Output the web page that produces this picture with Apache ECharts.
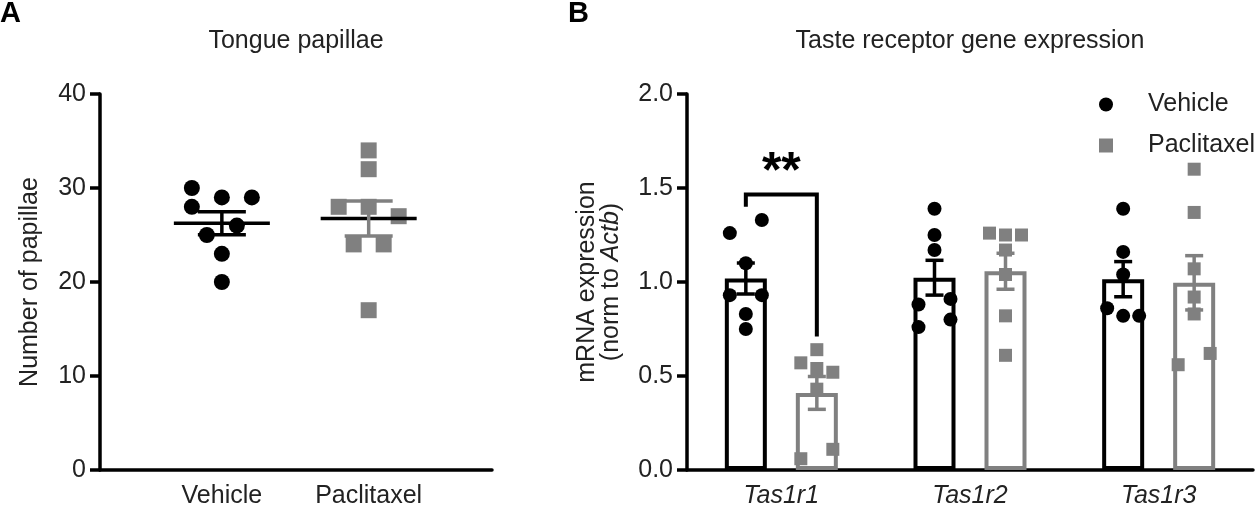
<!DOCTYPE html>
<html>
<head>
<meta charset="utf-8">
<script src="https://cdn.jsdelivr.net/npm/echarts@6/dist/echarts.min.js"></script>
<style>
html, body { margin: 0; padding: 0; background: #fff; }
#main { width: 1259px; height: 513px; }
</style>
</head>
<body>
<div id="main"></div>
<script>
// panel A: tongue papillae counts per mouse
var papGroups = ['Vehicle', 'Paclitaxel'];
var papVehicle = [30, 29, 29, 28, 26, 25, 23, 20];
var papPaclitaxel = [34, 32, 28, 28, 27, 24, 24, 17];
var papTicks = [0, 10, 20, 30, 40];

// panel B: taste receptor mRNA (norm to Actb), one list per gene
var genes = ['Tas1r1', 'Tas1r2', 'Tas1r3'];
var vehicleExpr = [
    [1.33, 1.26, 1.10, 0.93, 0.93, 0.83, 0.75],
    [1.39, 1.25, 1.17, 0.91, 0.88, 0.80, 0.76],
    [1.39, 1.16, 1.04, 0.86, 0.82, 0.82]
];
var paclitaxelExpr = [
    [0.64, 0.57, 0.54, 0.52, 0.43, 0.11, 0.06],
    [1.26, 1.25, 1.25, 1.17, 1.04, 0.82, 0.61],
    [1.60, 1.37, 1.07, 0.92, 0.83, 0.62, 0.56]
];
var exprTicks = [0, 0.5, 1.0, 1.5, 2.0];

// significance bracket on Tas1r1 (gene index, top, left foot, right foot)
var sigGene = 0;
var sigTop = 1.465;
var sigLeftEnd = 1.40;
var sigRightEnd = 0.71;
var sigLabel = '**';

var BLACK = '#000';
var GRAY = '#808080';
var TXT = '#222';
var FONT = '"Liberation Sans", Arial, sans-serif';

function mean(a) {
    var s = 0;
    for (var i = 0; i < a.length; i++) s += a[i];
    return s / a.length;
}
function sem(a) {
    var m = mean(a), s = 0;
    for (var i = 0; i < a.length; i++) s += (a[i] - m) * (a[i] - m);
    return Math.sqrt(s / (a.length - 1)) / Math.sqrt(a.length);
}

// row based scatter spread (like prism): points closer than D px in y share a row,
// a row is centred, then slid sideways if it still hits points above it
function swarm(vals, pxPerY, D, h) {
    var order = vals.map(function (v, i) { return i; });
    order.sort(function (a, b) { return vals[b] - vals[a]; });
    var rows = [];
    order.forEach(function (i) {
        var y = vals[i] * pxPerY;
        var last = rows[rows.length - 1];
        if (last && last.y0 - y < D) last.idx.push(i);
        else rows.push({y0: y, idx: [i]});
    });
    var placed = [], offs = [];
    rows.forEach(function (row) {
        var n = row.idx.length, base = [], j;
        if (n % 2) {
            var s = h >= D ? h : 2 * h;
            for (j = 0; j < n; j++) base.push((j - (n - 1) / 2) * s);
        } else {
            for (j = 0; j < n; j++) base.push((2 * j - (n - 1)) * h);
            base.reverse();
        }
        for (var k = 0; k < 40; k++) {
            var shift = (k % 2 ? 1 : -1) * Math.ceil(k / 2) * h;
            var ok = row.idx.every(function (i, jj) {
                var x = base[jj] + shift, y = vals[i] * pxPerY;
                return !placed.some(function (p) {
                    return Math.abs(p.y - y) < D - 0.01 && Math.abs(p.x - x) < D - 0.01;
                });
            });
            if (ok) {
                row.idx.forEach(function (i, jj) {
                    offs[i] = base[jj] + shift;
                    placed.push({x: offs[i], y: vals[i] * pxPerY});
                });
                break;
            }
        }
    });
    return offs;
}

var BAR_W = 42;
var BAR_SEP = 71; // distance between the two bar centres in a group

var myChart = echarts.init(document.getElementById('main'));

function axisLineStyle() {
    return {show: true, onZero: false, lineStyle: {color: BLACK, width: 3.5}};
}

myChart.setOption({
    animation: false,
    textStyle: {fontFamily: FONT},
    title: [
        {text: 'A', left: 0, top: -1, padding: 0,
            textStyle: {fontSize: 29, fontWeight: 'bold', color: BLACK, fontFamily: FONT}},
        {text: 'Tongue papillae', left: 296, top: 29, padding: 0, textAlign: 'center',
            textStyle: {fontSize: 25, fontWeight: 'normal', color: TXT, fontFamily: FONT}},
        {text: 'B', left: 568, top: -1, padding: 0,
            textStyle: {fontSize: 29, fontWeight: 'bold', color: BLACK, fontFamily: FONT}},
        {text: 'Taste receptor gene expression', left: 970, top: 29, padding: 0, textAlign: 'center',
            textStyle: {fontSize: 25, fontWeight: 'normal', color: TXT, fontFamily: FONT}}
    ],
    legend: {
        orient: 'vertical',
        left: 1094,
        top: 86,
        itemWidth: 14,
        itemHeight: 14,
        itemGap: 14,
        selectedMode: false,
        data: [{name: 'Vehicle', icon: 'circle'}, {name: 'Paclitaxel', icon: 'rect'}],
        textStyle: {fontSize: 25, color: TXT, fontFamily: FONT, lineHeight: 27, padding: [0, 0, 0, 30]}
    },
    grid: [
        {left: 100, top: 94, width: 392, height: 376},
        {left: 687, top: 94, width: 566, height: 376}
    ],
    xAxis: [
        {
            gridIndex: 0, type: 'value', min: 0.17, max: 2.84,
            axisLine: axisLineStyle(), axisTick: {show: false}, splitLine: {show: false},
            axisLabel: {
                customValues: [1, 2], margin: 14, fontSize: 25, color: TXT, fontFamily: FONT,
                formatter: function (v) { return papGroups[Math.round(v) - 1] || ''; }
            }
        },
        {
            gridIndex: 1, type: 'category', data: genes,
            axisLine: axisLineStyle(), axisTick: {show: false}, splitLine: {show: false},
            axisLabel: {margin: 14, fontSize: 25, color: TXT, fontStyle: 'italic', fontFamily: FONT}
        },
        {gridIndex: 1, type: 'value', min: -0.5, max: 2.5, show: false}
    ],
    yAxis: [
        {
            gridIndex: 0, type: 'value',
            min: papTicks[0], max: papTicks[papTicks.length - 1], interval: papTicks[1] - papTicks[0],
            axisLine: axisLineStyle(),
            axisTick: {show: true, length: 10, lineStyle: {color: BLACK, width: 3.5}},
            splitLine: {show: false},
            axisLabel: {margin: 14, fontSize: 25, color: TXT, fontFamily: FONT},
            name: 'Number of papillae', nameLocation: 'middle', nameGap: 57,
            nameTextStyle: {fontSize: 25, color: TXT, fontFamily: FONT}
        },
        {
            gridIndex: 1, type: 'value',
            min: exprTicks[0], max: exprTicks[exprTicks.length - 1], interval: exprTicks[1] - exprTicks[0],
            axisLine: axisLineStyle(),
            axisTick: {show: true, length: 10, lineStyle: {color: BLACK, width: 3.5}},
            splitLine: {show: false},
            axisLabel: {margin: 14, fontSize: 25, color: TXT, fontFamily: FONT,
                formatter: function (v) { return v.toFixed(1); }},
            name: 'mRNA expression\n(norm to {i|Actb})', nameLocation: 'middle', nameGap: 64,
            nameTextStyle: {fontSize: 25, lineHeight: 24, color: TXT, fontFamily: FONT,
                rich: {i: {fontSize: 25, fontStyle: 'italic', color: TXT, fontFamily: FONT}}}
        }
    ],
    series: []
});

// pixel scales from the axes
var pA0 = myChart.convertToPixel({xAxisIndex: 0, yAxisIndex: 0}, [1, 0]);
var pA1 = myChart.convertToPixel({xAxisIndex: 0, yAxisIndex: 0}, [2, 10]);
var pxPerXA = pA1[0] - pA0[0];
var pxPerYA = (pA0[1] - pA1[1]) / 10;
var pB0 = myChart.convertToPixel({xAxisIndex: 2, yAxisIndex: 1}, [0, 0]);
var pB1 = myChart.convertToPixel({xAxisIndex: 2, yAxisIndex: 1}, [1, 1]);
var pxPerXB = pB1[0] - pB0[0];
var pxPerYB = pB0[1] - pB1[1];
var barOff = BAR_SEP / 2 / pxPerXB;

function swarmPoints(vals, centre, pxPerX, pxPerY, D, h) {
    var offs = swarm(vals, pxPerY, D, h);
    return vals.map(function (v, i) { return [centre + offs[i] / pxPerX, v]; });
}

var dotsA = [papVehicle, papPaclitaxel].map(function (vals, g) {
    return swarmPoints(vals, g + 1, pxPerXA, pxPerYA, 16, 15);
});
var statsA = [papVehicle, papPaclitaxel].map(function (vals, g) {
    return [g + 1, mean(vals), sem(vals), g];
});

var dotsBV = [], dotsBP = [], statsB = [];
genes.forEach(function (gname, i) {
    dotsBV = dotsBV.concat(swarmPoints(vehicleExpr[i], i - barOff, pxPerXB, pxPerYB, 14, 16));
    dotsBP = dotsBP.concat(swarmPoints(paclitaxelExpr[i], i + barOff, pxPerXB, pxPerYB, 13, 16));
    statsB.push([i - barOff, mean(vehicleExpr[i]), sem(vehicleExpr[i]), 0]);
    statsB.push([i + barOff, mean(paclitaxelExpr[i]), sem(paclitaxelExpr[i]), 1]);
});

function line(x1, y1, x2, y2, color) {
    return {type: 'line', shape: {x1: x1, y1: y1, x2: x2, y2: y2},
        style: {stroke: color, lineWidth: 3.5}};
}

// mean line + SEM for the scatter panel
function renderMeanSem(params, api) {
    var x = api.value(0), m = api.value(1), s = api.value(2);
    var color = api.value(3) ? GRAY : BLACK;
    var c = api.coord([x, m]);
    var hi = api.coord([x, m + s]);
    var lo = api.coord([x, m - s]);
    return {type: 'group', children: [
        line(c[0] - 48, c[1], c[0] + 48, c[1], BLACK),
        line(c[0], hi[1], c[0], lo[1], color),
        line(c[0] - 24, hi[1], c[0] + 24, hi[1], color),
        line(c[0] - 24, lo[1], c[0] + 24, lo[1], color)
    ]};
}

// SEM whiskers on the bars
function renderErr(params, api) {
    var x = api.value(0), m = api.value(1), s = api.value(2);
    var color = api.value(3) ? GRAY : BLACK;
    var hi = api.coord([x, m + s]);
    var lo = api.coord([x, m - s]);
    return {type: 'group', children: [
        line(hi[0], hi[1], lo[0], lo[1], color),
        line(hi[0] - 9, hi[1], hi[0] + 9, hi[1], color),
        line(lo[0] - 9, lo[1], lo[0] + 9, lo[1], color)
    ]};
}

function renderBracket(params, api) {
    var a = api.coord([sigGene - barOff, sigLeftEnd]);
    var b = api.coord([sigGene - barOff, sigTop]);
    var c = api.coord([sigGene + barOff, sigTop]);
    var d = api.coord([sigGene + barOff, sigRightEnd]);
    return {type: 'group', children: [
        {type: 'polyline', shape: {points: [a, b, c, d]},
            style: {stroke: BLACK, lineWidth: 4, fill: null, lineJoin: 'miter'}},
        {type: 'text', x: (b[0] + c[0]) / 2, y: b[1] + 4,
            style: {text: sigLabel, fill: BLACK, fontSize: 50, fontWeight: 'bold',
                fontFamily: FONT, align: 'center', verticalAlign: 'bottom'}}
    ]};
}

myChart.setOption({
    series: [
        {name: 'Vehicle', type: 'scatter', xAxisIndex: 0, yAxisIndex: 0, z: 3,
            symbol: 'circle', symbolSize: 16, itemStyle: {color: BLACK, opacity: 1}, data: dotsA[0]},
        {name: 'Paclitaxel', type: 'scatter', xAxisIndex: 0, yAxisIndex: 0, z: 3,
            symbol: 'rect', symbolSize: 16, itemStyle: {color: GRAY, opacity: 1}, data: dotsA[1]},
        {name: 'meanA', type: 'custom', xAxisIndex: 0, yAxisIndex: 0, z: 4,
            renderItem: renderMeanSem, encode: {x: 0, y: 1}, data: statsA, clip: false},
        {name: 'Vehicle', type: 'bar', xAxisIndex: 1, yAxisIndex: 1, z: 2,
            barWidth: BAR_W, barGap: ((BAR_SEP - BAR_W) / BAR_W * 100) + '%',
            itemStyle: {color: 'rgba(255,255,255,0)', borderColor: BLACK, borderWidth: 4},
            data: vehicleExpr.map(mean)},
        {name: 'Paclitaxel', type: 'bar', xAxisIndex: 1, yAxisIndex: 1, z: 2,
            barWidth: BAR_W,
            itemStyle: {color: 'rgba(255,255,255,0)', borderColor: GRAY, borderWidth: 4},
            data: paclitaxelExpr.map(mean)},
        {name: 'Vehicle', type: 'scatter', xAxisIndex: 2, yAxisIndex: 1, z: 3,
            symbol: 'circle', symbolSize: 14, itemStyle: {color: BLACK, opacity: 1}, data: dotsBV},
        {name: 'Paclitaxel', type: 'scatter', xAxisIndex: 2, yAxisIndex: 1, z: 3,
            symbol: 'rect', symbolSize: 13, itemStyle: {color: GRAY, opacity: 1}, data: dotsBP},
        {name: 'errB', type: 'custom', xAxisIndex: 2, yAxisIndex: 1, z: 4,
            renderItem: renderErr, encode: {x: 0, y: 1}, data: statsB, clip: false},
        {name: 'sig', type: 'custom', xAxisIndex: 2, yAxisIndex: 1, z: 4,
            renderItem: renderBracket, data: [[sigGene, sigTop]], clip: false}
    ]
});
</script>
</body>
</html>
